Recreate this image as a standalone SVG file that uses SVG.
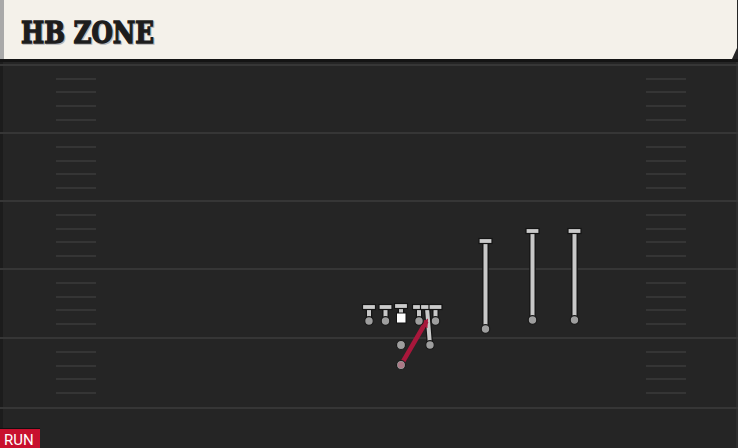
<svg xmlns="http://www.w3.org/2000/svg" width="738" height="448" viewBox="0 0 738 448">
  <defs>
    <style>
      .yard { stroke: #363636; stroke-width: 2; }
      .hash { stroke: #353535; stroke-width: 2; }
      .stemO { stroke: #141414; stroke-width: 6.5; stroke-linecap: butt; fill: none; }
      .stem { stroke: #c8c8c8; stroke-width: 4; fill: none; }
      .bar { fill: #cbcbcb; stroke: #141414; stroke-width: 1.2; }
      .dot { fill: #9e9e9e; stroke: #1a1a1a; stroke-width: 1.2; }
      .title { font-family: "DejaVu Serif", "Liberation Serif", serif; font-weight: bold; font-size: 29px; }
      .tag { font-family: Roboto, "Liberation Sans", sans-serif; font-size: 15px; fill: #ffffff; }
    </style>
    <marker id="redHead" viewBox="0 0 6 6" refX="4" refY="3" markerWidth="2" markerHeight="2" orient="auto" markerUnits="strokeWidth">
      <path d="M0,0 L6,3 L0,6 Z" fill="#a8173b"/>
    </marker>
  </defs>

  <!-- field -->
  <rect x="0" y="0" width="738" height="448" fill="#252525"/>
  <rect x="0" y="60" width="3" height="388" fill="#1c1c1c"/>
  <rect x="736" y="60" width="2" height="388" fill="#2e2e2e"/>
  <g id="yardlines">
    <line class="yard" x1="0" y1="65" x2="738" y2="65"/>
    <line class="yard" x1="0" y1="133" x2="738" y2="133"/>
    <line class="yard" x1="0" y1="201" x2="738" y2="201"/>
    <line class="yard" x1="0" y1="269" x2="738" y2="269"/>
    <line class="yard" x1="0" y1="338" x2="738" y2="338"/>
    <line class="yard" x1="0" y1="408" x2="738" y2="408"/>
  </g>
  <g id="hashes">
    <path class="hash" d="M56 79H96M56 92H96M56 106H96M56 120H96M56 147H96M56 161H96M56 174H96M56 188H96M56 215H96M56 229H96M56 242H96M56 256H96M56 283H96M56 297H96M56 310H96M56 324H96M56 352H96M56 366H96M56 379H96M56 393H96"/>
    <path class="hash" d="M646 79H686M646 92H686M646 106H686M646 120H686M646 147H686M646 161H686M646 174H686M646 188H686M646 215H686M646 229H686M646 242H686M646 256H686M646 283H686M646 297H686M646 310H686M646 324H686M646 352H686M646 366H686M646 379H686M646 393H686"/>
  </g>

  <!-- header -->
  <g id="header">
    <rect x="0" y="59" width="738" height="3" fill="#141414"/>
    <path d="M0 0H737V48L732 59H0Z" fill="#f4f1ea"/>
    <rect x="0" y="0" width="4" height="59" fill="#a9a9a9"/>
    <text class="title" x="22" y="44" textLength="133" lengthAdjust="spacingAndGlyphs" fill="#b8b8b8" stroke="#b8b8b8" stroke-width="1.6">HB ZONE</text>
    <text class="title" x="21" y="43" textLength="133" lengthAdjust="spacingAndGlyphs" fill="#1d1d1d" stroke="#1d1d1d" stroke-width="1.4">HB ZONE</text>
  </g>

  <!-- connectors -->
  <g id="connectors">
    <path class="stemO" d="M369 321V308M385.5 321V308M401 313V306M419 321V308M435.5 321V308M430 345L427 308M485.5 329V242M532.5 320V232M574.5 320V232"/>
    <path class="stem" d="M369 321V308M385.5 321V308M401 313V306M419 321V308M435.5 321V308M430 345L427 308M485.5 329V242M532.5 320V232M574.5 320V232"/>
    <rect class="bar" x="362.5" y="304.5" width="13" height="5"/>
    <rect class="bar" x="379" y="304.5" width="13" height="5"/>
    <rect class="bar" x="394.5" y="303.5" width="13" height="5"/>
    <rect class="bar" x="412.5" y="304.5" width="13" height="5"/>
    <rect class="bar" x="420.5" y="304.5" width="13" height="5"/>
    <rect class="bar" x="429" y="304.5" width="13" height="5"/>
    <rect class="bar" x="479" y="238.5" width="13" height="5"/>
    <rect class="bar" x="526" y="228.5" width="13" height="5"/>
    <rect class="bar" x="568" y="228.5" width="13" height="5"/>
    <line x1="401" y1="365" x2="426.5" y2="321" stroke="#a8173b" stroke-width="4.5" marker-end="url(#redHead)"/>
  </g>

  <!-- players -->
  <g id="lt"><circle class="dot" cx="369" cy="321" r="4.3"/></g>
  <g id="lg"><circle class="dot" cx="385.5" cy="321" r="4.3"/></g>
  <g id="c"><rect x="396.5" y="313" width="9.5" height="10" fill="#ffffff" stroke="#141414" stroke-width="1"/></g>
  <g id="rg"><circle class="dot" cx="419" cy="321" r="4.3"/></g>
  <g id="rt"><circle class="dot" cx="435.5" cy="321" r="4.3"/></g>
  <g id="te"><circle class="dot" cx="430" cy="345" r="4.3"/></g>
  <g id="qb"><circle class="dot" cx="401" cy="345" r="4.5"/></g>
  <g id="wr1"><circle class="dot" cx="485.5" cy="329" r="4.3"/></g>
  <g id="wr2"><circle class="dot" cx="532.5" cy="320" r="4.3"/></g>
  <g id="wr3"><circle class="dot" cx="574.5" cy="320" r="4.3"/></g>
  <g id="hb">
    <circle class="dot" cx="401" cy="365" r="4.5"/>
    <circle cx="401" cy="365" r="3.2" fill="#b06a7c" opacity="0.7"/>
  </g>

  <!-- tag -->
  <g id="run-tag">
    <rect x="0" y="428" width="40" height="20" fill="#c8102e"/>
    <rect x="0" y="428" width="40" height="1" fill="#111"/>
    <text class="tag" x="4" y="445">RUN</text>
  </g>
</svg>
